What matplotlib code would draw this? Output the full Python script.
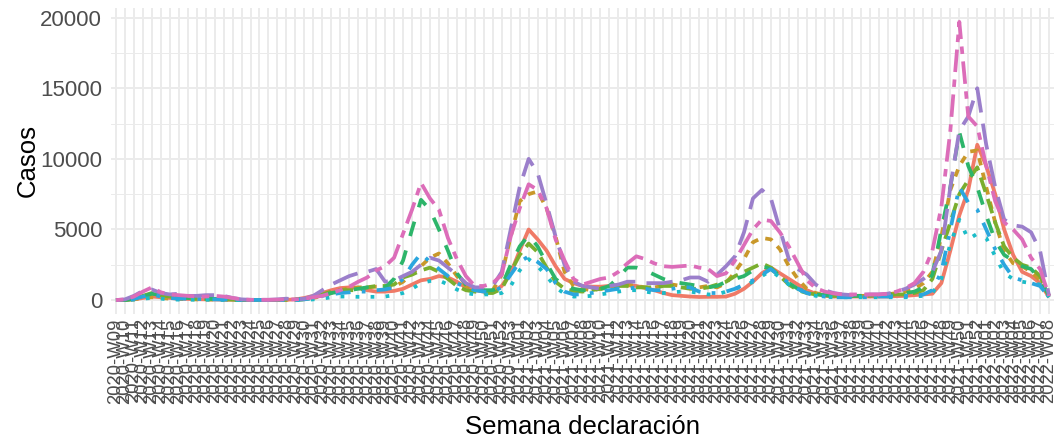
import matplotlib
matplotlib.use("Agg")
import matplotlib.pyplot as plt
from matplotlib.ticker import MultipleLocator

# ==========================================================
# DATOS: casos semanales por grupo
# ==========================================================
semanas = ([f"2020-W{w:02d}" for w in range(9, 54)]
           + [f"2021-W{w:02d}" for w in range(1, 53)]
           + [f"2022-W{w:02d}" for w in range(1, 9)])

grupo_1 = [0, 0, 50, 150, 250, 200, 150, 100, 80, 60, 50, 40, 30, 20, 10, 10, 10, 10, 10, 20, 50,
           150, 300, 500, 700, 850, 900, 850, 700, 600, 600, 650, 800, 1100, 1400, 1500, 1700, 1600, 1300, 900, 700, 600, 600,
           1000, 1900, 3500, 5000, 4300, 3500, 2400, 1500, 1200, 1000, 950, 950, 1000, 1050, 1050, 1000, 850, 700, 500, 350, 300, 250, 220,
           230, 230, 250, 450, 800, 1300, 1900, 2300, 1900, 1500, 1100, 700, 450, 300, 250, 250, 250, 250, 250, 250, 250, 280,
           300, 350, 400, 450, 1200, 3500, 6000, 7800, 11000, 9500, 7500, 5000, 3200, 2000, 1700, 1200, 200]

grupo_2 = [0, 0, 50, 150, 200, 150, 100, 80, 60, 50, 40, 40, 30, 20, 10, 10, 10, 10, 10, 20, 30,
           50, 150, 300, 500, 700, 850, 900, 900, 950, 950, 950, 1300, 1900, 2400, 3000, 3300, 2600, 1700, 1000, 800, 700, 700,
           1800, 4500, 7000, 7500, 7700, 6500, 4500, 2000, 1000, 800, 700, 800, 900, 1000, 1100, 1000, 900, 900, 1000, 1100, 1000, 900, 900, 1000, 900,
           1200, 2000, 2900, 4100, 4400, 4300, 3600, 2400, 1500, 800, 500, 350, 300, 300, 300, 300, 300, 350, 400, 500,
           600, 800, 1200, 2000, 4500, 7800, 9500, 10500, 10600, 8000, 5500, 3500, 2600, 2400, 2000, 1400, 300]

grupo_3 = [0, 0, 100, 300, 500, 350, 250, 150, 150, 100, 80, 80, 60, 30, 10, 10, 10, 10, 10, 20, 30,
           60, 200, 400, 600, 700, 700, 700, 900, 1000, 1000, 1100, 1600, 1800, 2100, 2300, 2000, 1500, 1000, 700, 600, 500, 500,
           800, 2000, 3200, 4000, 3400, 2300, 1300, 800, 650, 600, 700, 800, 900, 1000, 1000, 900, 900, 900, 1000, 1000,
           900, 800, 800, 900, 1100, 1300, 1700, 2000, 2300, 2600, 2300, 1700, 1100, 700, 500, 400, 350, 300, 300, 300, 300, 300, 350, 350, 400,
           400, 500, 700, 1500, 3500, 5500, 7500, 8500, 9400, 7500, 5500, 3800, 3000, 2500, 2300, 1700, 300]

grupo_4 = [0, 0, 80, 250, 450, 350, 250, 200, 150, 120, 100, 80, 60, 30, 10, 10, 10, 10, 10, 20, 30,
           80, 150, 300, 500, 600, 700, 800, 900, 800, 900, 1500, 2800, 5000, 7100, 6400, 5000, 3500, 1900, 1100, 800, 700, 700,
           1000, 2500, 3800, 4600, 3800, 2600, 1500, 1000, 800, 700, 700, 800, 1000, 1600, 2300, 2300, 2100, 1800, 1500, 1300, 1200, 1100, 1000,
           900, 1000, 1300, 1500, 1700, 2100, 2400, 2200, 1700, 1200, 800, 550, 400, 350, 300, 300, 300, 300, 300, 350, 400, 450,
           500, 600, 900, 1800, 5000, 8000, 11900, 9500, 8000, 6000, 4200, 3200, 2800, 2400, 2200, 1500, 300]

grupo_5 = [0, 0, 30, 100, 150, 100, 50, 30, 30, 20, 20, 20, 10, 10, 0, 0, 0, 0, 0, 0, 0,
           0, 50, 100, 200, 250, 250, 230, 230, 230, 250, 350, 500, 800, 1200, 1350, 1400, 1100, 750, 500, 400, 400, 400,
           500, 1000, 2100, 2900, 2400, 1700, 900, 450, 250, 250, 300, 400, 500, 600, 700, 700, 600, 500, 500, 550, 600,
           600, 500, 400, 400, 600, 800, 1000, 1300, 1700, 2100, 1600, 1100, 800, 450, 300, 230, 200, 200, 200, 200, 200, 200, 200, 200,
           200, 250, 300, 500, 1500, 4000, 5700, 4300, 4700, 4400, 3100, 1900, 1500, 1300, 1200, 1100, 200]

grupo_6 = [0, 0, 80, 250, 400, 250, 150, 100, 100, 80, 60, 50, 40, 20, 10, 10, 10, 10, 10, 10, 20,
           50, 150, 300, 400, 500, 550, 600, 600, 700, 750, 900, 1500, 2500, 3300, 2700, 2200, 1700, 1200, 900, 700, 600, 600,
           900, 1800, 2700, 3100, 2700, 2200, 1200, 600, 400, 400, 500, 600, 700, 800, 800, 900, 800, 700, 700, 800, 900, 900,
           600, 500, 500, 600, 800, 1100, 1400, 1800, 2200, 1700, 1200, 800, 500, 300, 250, 200, 200, 200, 200, 200, 250, 250, 300,
           300, 300, 400, 700, 2000, 5000, 8000, 6900, 6400, 5000, 3600, 2500, 1600, 1400, 1200, 1000, 200]

grupo_7 = [0, 50, 300, 650, 750, 500, 400, 450, 300, 300, 350, 350, 300, 150, 50, 20, 20, 20, 50, 100, 50,
           100, 300, 700, 1100, 1400, 1700, 1900, 2000, 2200, 1300, 1400, 1700, 2000, 2500, 3000, 2800, 2300, 1800, 1200, 900, 900, 1000,
           2000, 5000, 8000, 10000, 9000, 6800, 4500, 2500, 1300, 1000, 900, 800, 1000, 1100, 1300, 1300, 1200, 1200, 1200, 1300, 1400, 1600, 1600, 1300,
           1800, 2400, 3100, 4800, 7200, 7800, 7200, 5000, 2900, 2200, 1800, 1100, 700, 500, 400, 350, 350, 400, 400, 450, 600,
           800, 1100, 1500, 2000, 3500, 8000, 12000, 13000, 15000, 11000, 8000, 5700, 5300, 5200, 4800, 3500, 300]

grupo_8 = [0, 50, 250, 600, 900, 550, 400, 350, 300, 250, 250, 300, 250, 150, 50, 20, 20, 20, 30, 50, 50,
           100, 200, 300, 500, 700, 950, 1300, 1600, 2100, 2400, 3000, 4700, 6400, 8300, 7200, 6400, 4400, 2900, 1700, 1000, 1000, 1200,
           1800, 4500, 6500, 8200, 7800, 6500, 4300, 2800, 1500, 1100, 1300, 1500, 1600, 2000, 2600, 3100, 2900, 2600, 2400, 2350, 2400, 2450, 2300, 2200, 1700,
           1900, 2800, 3900, 5000, 5700, 5600, 4800, 3800, 2600, 1400, 850, 600, 470, 400, 400, 400, 400, 400, 450, 600,
           850, 1200, 2000, 3500, 6600, 12000, 19700, 13000, 12300, 9500, 7000, 5500, 5000, 4300, 3000, 2200, 300]

series = [grupo_1, grupo_2, grupo_3, grupo_4, grupo_5, grupo_6, grupo_7, grupo_8]

# colores (tono algo apagado, como en el original) y tipos de linea de ggplot
colores = ["#F07A67", "#C9982A", "#7AAE2E", "#2DB56A", "#1BBCC8", "#2BA6DE", "#9B7FCB", "#DC6DB9"]
trazos = [None, (2, 2), (4, 2), (4, 4), (1, 3), (1, 3, 4, 3), (7, 3), (2, 2, 6, 2)]

# ==========================================================
# GRAFICO
# ==========================================================
plt.rcParams["font.family"] = ["Liberation Sans", "DejaVu Sans"]

fig = plt.figure(figsize=(10.56, 4.41), dpi=100)
ax = fig.add_axes([0.1047, 0.288, 0.8938, 0.6939])

x = list(range(len(semanas)))
for valores, color, trazo in zip(series, colores, trazos):
    linea, = ax.plot(x, valores, color=color, lw=2.7, solid_capstyle="butt",
                     dash_capstyle="butt")
    if trazo is not None:
        linea.set_dashes(trazo)

ymax = max(max(s) for s in series)
ax.set_xlim(-0.6, len(semanas) - 1 + 0.6)
ax.set_ylim(-0.05 * ymax, 1.05 * ymax)

ax.set_xticks(x)
ax.set_xticklabels(semanas, rotation=90, fontsize=13.3, color="#4D4D4D")
ax.yaxis.set_major_locator(MultipleLocator(5000))
ax.yaxis.set_minor_locator(MultipleLocator(2500))
ax.tick_params(axis="y", labelsize=16, labelcolor="#4D4D4D", pad=6)
ax.tick_params(axis="x", pad=3)
ax.tick_params(axis="both", which="both", length=0)

# rejilla estilo theme_minimal
ax.grid(True, which="major", color="#EBEBEB", lw=1.4)
ax.grid(True, which="minor", axis="y", color="#EBEBEB", lw=0.7)
ax.set_axisbelow(True)
for lado in ax.spines.values():
    lado.set_visible(False)

ax.set_xlabel("Semana declaración", fontsize=18.5, labelpad=8)
ax.set_ylabel("Casos", fontsize=18.5, va="center")
ax.yaxis.set_label_coords(-0.0875, 0.5)

fig.savefig("out.png", dpi=100)
